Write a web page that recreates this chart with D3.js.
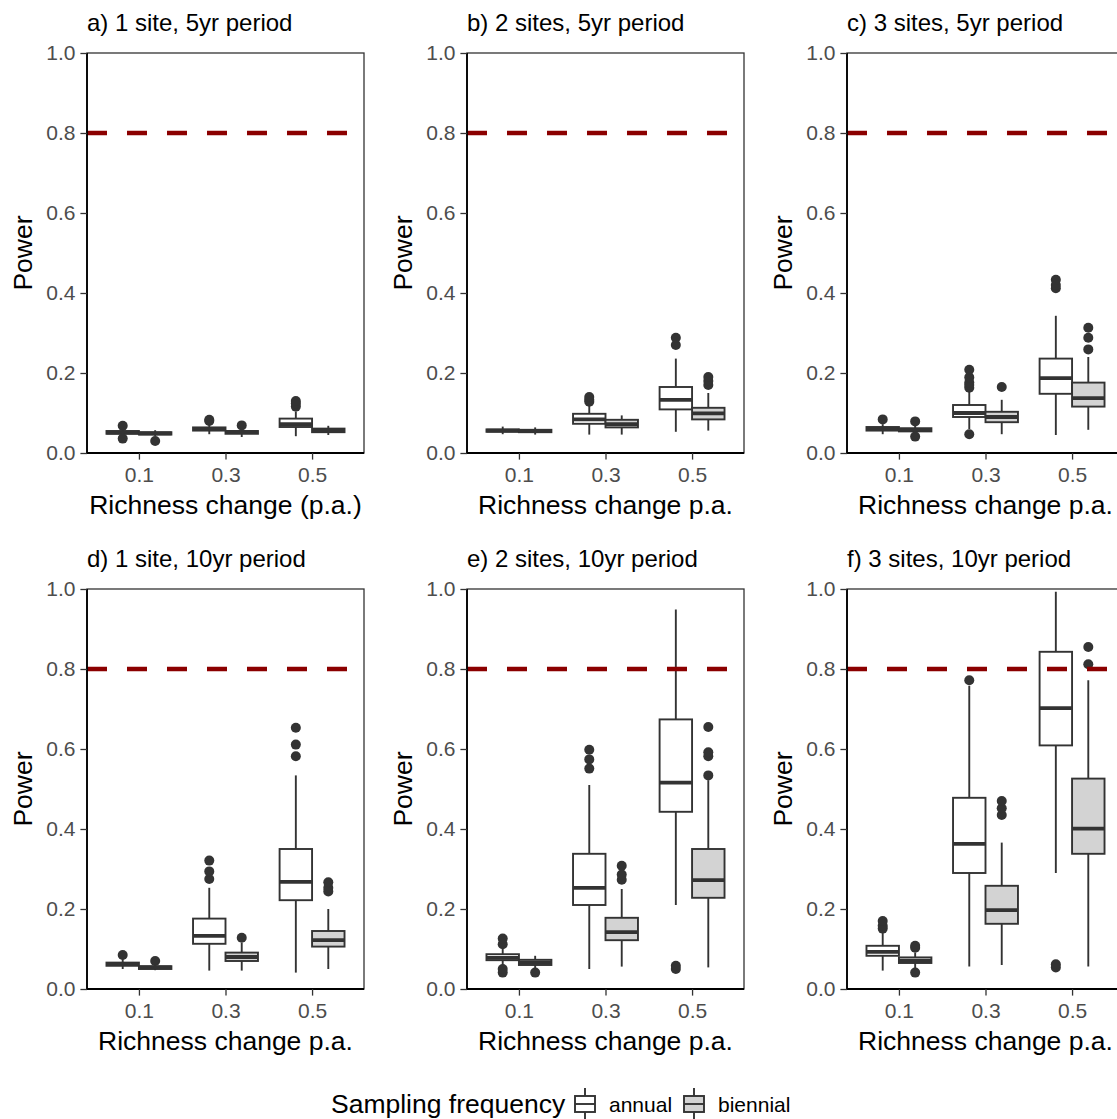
<!DOCTYPE html>
<html>
<head>
<meta charset="utf-8">
<script src="https://cdn.jsdelivr.net/npm/d3@7"></script>
<style>
  body { margin: 0; background: #fff; }
  text { font-family: "Liberation Sans", Arial, sans-serif; }
</style>
</head>
<body>
<div id="chart"></div>
<script>
// tick labels / categories
const changes = ["0.1", "0.3", "0.5"];
const frequencies = ["annual", "biennial"];
const yTicks = [0, 0.2, 0.4, 0.6, 0.8, 1.0];
const threshold = 0.8;

const panelTitles = ["a) 1 site, 5yr period", "b) 2 sites, 5yr period", "c) 3 sites, 5yr period",
  "d) 1 site, 10yr period", "e) 2 sites, 10yr period", "f) 3 sites, 10yr period"];
const xTitles = ["Richness change (p.a.)", "Richness change p.a.", "Richness change p.a.",
  "Richness change p.a.", "Richness change p.a.", "Richness change p.a."];

// [change, frequency, lower whisker, q1, median, q3, upper whisker, outliers]
const boxA = [
  ["0.1", "annual", 0.045, 0.048, 0.051, 0.055, 0.058, [0.036, 0.068]],
  ["0.1", "biennial", 0.042, 0.046, 0.049, 0.052, 0.057, [0.030]],
  ["0.3", "annual", 0.047, 0.056, 0.060, 0.064, 0.072, [0.080, 0.083]],
  ["0.3", "biennial", 0.040, 0.048, 0.052, 0.055, 0.062, [0.069]],
  ["0.5", "annual", 0.042, 0.065, 0.072, 0.086, 0.104, [0.116, 0.124, 0.130]],
  ["0.5", "biennial", 0.045, 0.052, 0.056, 0.061, 0.068, []]
];
const boxB = [
  ["0.1", "annual", 0.047, 0.053, 0.056, 0.059, 0.066, []],
  ["0.1", "biennial", 0.046, 0.052, 0.055, 0.058, 0.064, []],
  ["0.3", "annual", 0.046, 0.073, 0.084, 0.098, 0.120, [0.128, 0.133, 0.140]],
  ["0.3", "biennial", 0.046, 0.064, 0.072, 0.083, 0.094, []],
  ["0.5", "annual", 0.053, 0.109, 0.133, 0.165, 0.236, [0.270, 0.288]],
  ["0.5", "biennial", 0.056, 0.084, 0.099, 0.113, 0.150, [0.170, 0.180, 0.190]]
];
const boxC = [
  ["0.1", "annual", 0.047, 0.056, 0.060, 0.065, 0.072, [0.084]],
  ["0.1", "biennial", 0.050, 0.054, 0.058, 0.062, 0.068, [0.041, 0.079]],
  ["0.3", "annual", 0.060, 0.090, 0.100, 0.120, 0.155, [0.047, 0.163, 0.170, 0.176, 0.189, 0.208]],
  ["0.3", "biennial", 0.047, 0.077, 0.090, 0.103, 0.133, [0.165]],
  ["0.5", "annual", 0.045, 0.148, 0.187, 0.236, 0.343, [0.412, 0.420, 0.433]],
  ["0.5", "biennial", 0.058, 0.116, 0.137, 0.176, 0.240, [0.259, 0.288, 0.313]]
];
const boxD = [
  ["0.1", "annual", 0.050, 0.058, 0.062, 0.066, 0.075, [0.085]],
  ["0.1", "biennial", 0.047, 0.050, 0.054, 0.057, 0.062, [0.070]],
  ["0.3", "annual", 0.046, 0.113, 0.133, 0.176, 0.253, [0.275, 0.294, 0.321]],
  ["0.3", "biennial", 0.046, 0.070, 0.080, 0.091, 0.116, [0.128]],
  ["0.5", "annual", 0.041, 0.222, 0.268, 0.350, 0.534, [0.582, 0.611, 0.653]],
  ["0.5", "biennial", 0.050, 0.106, 0.122, 0.145, 0.200, [0.244, 0.253, 0.267]]
];
const boxE = [
  ["0.1", "annual", 0.060, 0.072, 0.078, 0.087, 0.100, [0.041, 0.050, 0.112, 0.126]],
  ["0.1", "biennial", 0.050, 0.060, 0.066, 0.073, 0.083, [0.041]],
  ["0.3", "annual", 0.050, 0.210, 0.253, 0.338, 0.510, [0.551, 0.574, 0.598]],
  ["0.3", "biennial", 0.056, 0.122, 0.142, 0.178, 0.250, [0.273, 0.286, 0.308]],
  ["0.5", "annual", 0.210, 0.443, 0.516, 0.674, 0.949, [0.050, 0.058]],
  ["0.5", "biennial", 0.054, 0.228, 0.272, 0.350, 0.522, [0.534, 0.582, 0.592, 0.655]]
];
const boxF = [
  ["0.1", "annual", 0.046, 0.083, 0.093, 0.108, 0.140, [0.151, 0.158, 0.170]],
  ["0.1", "biennial", 0.050, 0.065, 0.070, 0.079, 0.091, [0.041, 0.103, 0.108]],
  ["0.3", "annual", 0.056, 0.290, 0.363, 0.478, 0.758, [0.772]],
  ["0.3", "biennial", 0.060, 0.163, 0.197, 0.258, 0.366, [0.435, 0.452, 0.470]],
  ["0.5", "annual", 0.290, 0.609, 0.702, 0.843, 0.993, [0.054, 0.062]],
  ["0.5", "biennial", 0.056, 0.338, 0.401, 0.526, 0.772, [0.812, 0.855]]
];
const panels = [boxA, boxB, boxC, boxD, boxE, boxF];

const W = 1117, H = 1119;
const plotW = 277, plotH = 400;
const colX = [87, 467, 847];
const rowY = [53, 589];
const ink = "#333333";
const fills = {annual: "#ffffff", biennial: "#d3d3d3"};

const svg = d3.select("#chart").append("svg")
  .attr("width", W).attr("height", H);

const x = d3.scalePoint().domain(changes).range([0, plotW]).padding(0.6);
const dodge = d3.scaleBand().domain(frequencies)
  .range([-0.375 * x.step(), 0.375 * x.step()]);
const y = d3.scaleLinear().domain([0, 1]).range([plotH, 0]);

panels.forEach((rows, i) => {
  const g = svg.append("g")
    .attr("transform", "translate(" + colX[i % 3] + "," + rowY[Math.floor(i / 3)] + ")");

  // panel border
  g.append("rect")
    .attr("width", plotW).attr("height", plotH)
    .attr("fill", "none").attr("stroke", ink).attr("stroke-width", 1.3);

  const boxes = g.selectAll("g.box").data(rows).enter().append("g").attr("class", "box");
  const cx = (d) => x(d[0]) + dodge(d[1]) + dodge.bandwidth() / 2;

  boxes.append("line")
    .attr("x1", cx).attr("x2", cx)
    .attr("y1", (d) => y(d[2])).attr("y2", (d) => y(d[6]))
    .attr("stroke", ink).attr("stroke-width", 1.9);

  boxes.append("rect")
    .attr("x", (d) => x(d[0]) + dodge(d[1]))
    .attr("width", dodge.bandwidth())
    .attr("y", (d) => y(d[5]))
    .attr("height", (d) => y(d[3]) - y(d[5]))
    .attr("fill", (d) => fills[d[1]])
    .attr("stroke", ink).attr("stroke-width", 1.9);

  boxes.append("line")
    .attr("x1", (d) => x(d[0]) + dodge(d[1]))
    .attr("x2", (d) => x(d[0]) + dodge(d[1]) + dodge.bandwidth())
    .attr("y1", (d) => y(d[4])).attr("y2", (d) => y(d[4]))
    .attr("stroke", ink).attr("stroke-width", 3.8);

  boxes.selectAll("circle")
    .data((d) => d[7].map((v) => ({cx: cx(d), v: v})))
    .enter().append("circle")
    .attr("cx", (d) => d.cx).attr("cy", (d) => y(d.v))
    .attr("r", 5).attr("fill", ink);

  g.append("line")
    .attr("x1", 0).attr("x2", plotW)
    .attr("y1", y(threshold)).attr("y2", y(threshold))
    .attr("stroke", "#8b0000").attr("stroke-width", 4.5)
    .attr("stroke-dasharray", "20,20");

  const yAxis = g.append("g")
    .call(d3.axisLeft(y).tickValues(yTicks).tickFormat(d3.format(".1f")).tickSize(6.6).tickPadding(5));
  const xAxis = g.append("g")
    .attr("transform", "translate(0," + plotH + ")")
    .call(d3.axisBottom(x).tickSize(6.6).tickPadding(7));
  [yAxis, xAxis].forEach((a) => {
    a.select(".domain").attr("stroke", "#000").attr("stroke-width", 1.8);
    a.selectAll(".tick line").attr("stroke", ink).attr("stroke-width", 1.3);
    a.selectAll(".tick text").attr("fill", "#4d4d4d")
      .style("font-size", "21px").style("font-family", "'Liberation Sans', Arial, sans-serif");
  });
  yAxis.select(".domain").attr("d", "M0," + plotH + "V0");
  xAxis.select(".domain").attr("d", "M0,0H" + plotW);

  g.append("text")
    .attr("x", 0).attr("y", -22)
    .style("font-size", "24px")
    .text(panelTitles[i]);

  g.append("text")
    .attr("x", plotW / 2).attr("y", plotH + 61)
    .attr("text-anchor", "middle")
    .style("font-size", "26.5px")
    .text(xTitles[i]);

  g.append("text")
    .attr("transform", "rotate(-90)")
    .attr("x", -plotH / 2).attr("y", -55)
    .attr("text-anchor", "middle")
    .style("font-size", "26.5px")
    .text("Power");
});

// legend
const legend = svg.append("g").attr("transform", "translate(331,1113)");
legend.append("text")
  .style("font-size", "26.5px")
  .text("Sampling frequency");

const keyX = {annual: 244, biennial: 353};
const keys = legend.selectAll("g.key").data(frequencies).enter().append("g")
  .attr("class", "key")
  .attr("transform", (d) => "translate(" + keyX[d] + ",-9)");
keys.append("line")
  .attr("x1", 10).attr("x2", 10).attr("y1", -16).attr("y2", 16)
  .attr("stroke", ink).attr("stroke-width", 1.9);
keys.append("rect")
  .attr("x", 0).attr("y", -8).attr("width", 20).attr("height", 16)
  .attr("fill", (d) => fills[d]).attr("stroke", ink).attr("stroke-width", 1.9);
keys.append("line")
  .attr("x1", 0).attr("x2", 20).attr("y1", 0).attr("y2", 0)
  .attr("stroke", ink).attr("stroke-width", 1.9);
keys.append("text")
  .attr("x", 34).attr("y", 8)
  .style("font-size", "21px")
  .text((d) => d);
</script>
</body>
</html>
